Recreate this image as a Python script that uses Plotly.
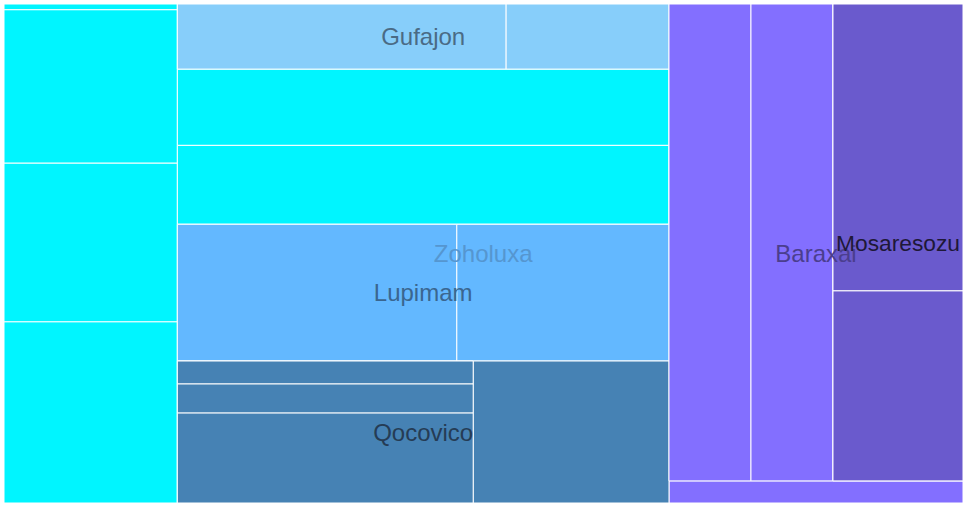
import plotly.graph_objects as go

# hierarchy (unnamed ids are unlabeled cells / grouping nodes)
ids = ["Zoholuxa", "grp_left", "grp_mid", "Baraxai",
       "c0", "c1", "c2", "c3",
       "Gufajon", "c4", "c5", "Lupimam", "Qocovico",
       "grp_bar", "strip",
       "g1", "g2", "l1", "l2", "grp_q", "q4",
       "a", "b", "Mosaresozu",
       "q1", "q2", "q3", "m1", "m2"]
parents = ["", "Zoholuxa", "Zoholuxa", "Zoholuxa",
           "grp_left", "grp_left", "grp_left", "grp_left",
           "grp_mid", "grp_mid", "grp_mid", "grp_mid", "grp_mid",
           "Baraxai", "Baraxai",
           "Gufajon", "Gufajon", "Lupimam", "Lupimam", "Qocovico", "Qocovico",
           "grp_bar", "grp_bar", "grp_bar",
           "grp_q", "grp_q", "grp_q", "Mosaresozu", "Mosaresozu"]
values = [0, 0, 0, 0,
          10, 266, 275, 314,
          0, 375, 388, 0, 0,
          0, 65,
          214, 106, 382, 290, 0, 278,
          391, 391, 0,
          68, 86, 266, 373, 247]

CYAN = "#00F5FF"
SKY = "#87CEFA"
SB1 = "#63B8FF"
STEEL = "#4682B4"
PURPLE = "#836FFF"
SLATE = "#6A5ACD"
colors = [CYAN, CYAN, CYAN, PURPLE,
          CYAN, CYAN, CYAN, CYAN,
          SKY, CYAN, CYAN, SB1, STEEL,
          PURPLE, PURPLE,
          SKY, SKY, SB1, SB1, STEEL, STEEL,
          PURPLE, PURPLE, SLATE,
          STEEL, STEEL, STEEL, SLATE, SLATE]

# label colour and the depth at which each name is shown
label_style = {
    "Zoholuxa": ("#5596D0", 1),
    "Baraxai": ("#4B3E8E", 2),
    "Gufajon": ("#4A6B85", 3),
    "Lupimam": ("#3A6690", 3),
    "Qocovico": ("#253C55", 3),
    "Mosaresozu": ("#1E1838", 4),
}

FONT = "Liberation Sans, Arial, sans-serif"

fig = go.Figure()
fig.add_trace(go.Treemap(
    ids=ids, labels=ids, parents=parents, values=values,
    sort=False,
    tiling=dict(packing="slice-dice", pad=0),
    marker=dict(colors=colors, line=dict(color="white", width=1),
                pad=dict(t=0, l=0, r=0, b=0)),
    textinfo="none",
    pathbar=dict(visible=False),
    hoverinfo="label",
))

# one transparent overlay per depth so parent names sit in the middle
for depth in sorted(set(d for _, d in label_style.values())):
    text = []
    tcol = []
    for i in ids:
        if i in label_style and label_style[i][1] == depth:
            text.append(i)
            tcol.append(label_style[i][0])
        else:
            text.append("")
            tcol.append("#000")
    fig.add_trace(go.Treemap(
        ids=ids, labels=ids, parents=parents, values=values,
        sort=False, maxdepth=depth,
        tiling=dict(packing="slice-dice", pad=0),
        marker=dict(colors=["rgba(0,0,0,0)"] * len(ids),
                    line=dict(width=0),
                    pad=dict(t=0, l=0, r=0, b=0)),
        text=text, textinfo="text",
        textposition="middle center",
        textfont=dict(family=FONT, size=24, color=tcol),
        pathbar=dict(visible=False),
        hoverinfo="skip",
    ))

fig.update_layout(
    width=971, height=507,
    margin=dict(l=4, r=8, t=4, b=4),
    paper_bgcolor="white",
    font=dict(family=FONT),
    showlegend=False,
)

fig.write_html("out.html",
               config={"displayModeBar": False},
               post_script="document.body.style.margin='0';document.body.style.overflow='hidden';")
